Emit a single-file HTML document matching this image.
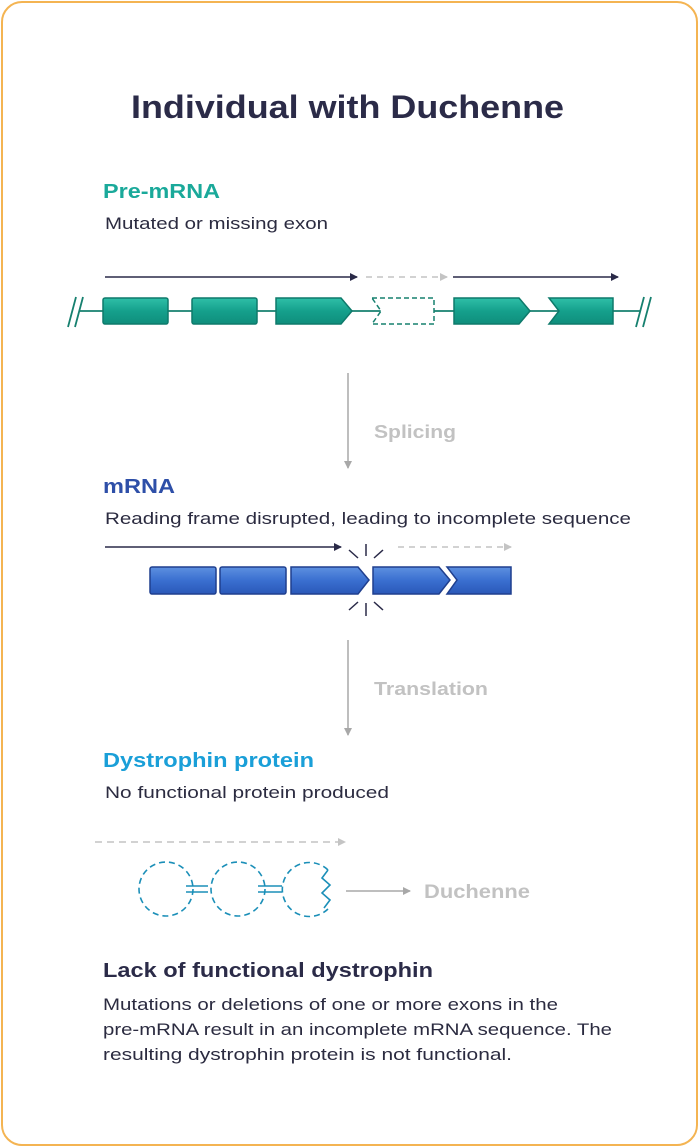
<!DOCTYPE html>
<html><head><style>
html,body{margin:0;padding:0;background:#fff;}
svg{display:block;font-family:"Liberation Sans",sans-serif;}
</style></head><body>
<svg width="700" height="1148" viewBox="0 0 700 1148">
<defs>
<linearGradient id="tg" x1="0" y1="0" x2="0" y2="1"><stop offset="0" stop-color="#2fbfa8"/><stop offset="0.5" stop-color="#15a08c"/><stop offset="1" stop-color="#0f8e7c"/></linearGradient>
<linearGradient id="bg" x1="0" y1="0" x2="0" y2="1"><stop offset="0" stop-color="#5d90e0"/><stop offset="0.5" stop-color="#3a6fd0"/><stop offset="1" stop-color="#2a58b8"/></linearGradient>
<marker id="ad" markerWidth="8" markerHeight="8" refX="7" refY="4" orient="auto" markerUnits="userSpaceOnUse"><path d="M0,0 L8,4 L0,8z" fill="#2a2a48"/></marker>
<marker id="ag" markerWidth="8" markerHeight="8" refX="7" refY="4" orient="auto" markerUnits="userSpaceOnUse"><path d="M0,0 L8,4 L0,8z" fill="#c4c4c4"/></marker>
<marker id="ag2" markerWidth="8" markerHeight="8" refX="7" refY="4" orient="auto" markerUnits="userSpaceOnUse"><path d="M0,0 L8,4 L0,8z" fill="#a8a8a8"/></marker>
</defs>
<rect x="2" y="2" width="695" height="1143" rx="20" fill="#fff" stroke="#f4b452" stroke-width="2"/>
<g lengthAdjust="spacingAndGlyphs">
<text x="131" y="118" font-size="32" font-weight="bold" fill="#2b2b48" textLength="433" lengthAdjust="spacingAndGlyphs">Individual with Duchenne</text>

<text x="103" y="198" font-size="20" font-weight="bold" fill="#1aa99a" textLength="117" lengthAdjust="spacingAndGlyphs">Pre-mRNA</text>
<text x="105" y="229" font-size="17" fill="#2b2b40" textLength="223" lengthAdjust="spacingAndGlyphs">Mutated or missing exon</text>
</g>
<line x1="105" y1="277" x2="357" y2="277" stroke="#2a2a48" stroke-width="1.6" marker-end="url(#ad)"/>
<line x1="366" y1="277" x2="447" y2="277" stroke="#c4c4c4" stroke-width="1.6" stroke-dasharray="6,5" marker-end="url(#ag)"/>
<line x1="453" y1="277" x2="618" y2="277" stroke="#2a2a48" stroke-width="1.6" marker-end="url(#ad)"/>
<line x1="80" y1="311" x2="640" y2="311" stroke="#16806f" stroke-width="1.8"/>
<g stroke="#16806f" stroke-width="1.8"><line x1="68" y1="327" x2="76" y2="297"/><line x1="75" y1="327" x2="83" y2="297"/><line x1="636" y1="327" x2="644" y2="297"/><line x1="643" y1="327" x2="651" y2="297"/></g>
<g fill="url(#tg)" stroke="#0e7a6b" stroke-width="1.5">
<rect x="103" y="298" width="65" height="26" rx="2"/>
<rect x="192" y="298" width="65" height="26" rx="2"/>
<path d="M276,298 H341 L352,311 L341,324 H276Z"/>
<path d="M454,298 H519 L530,311 L519,324 H454Z"/>
<path d="M549,298 H613 V324 H549 L559,311Z"/>
</g>
<path d="M372,298 H434 V324 H372 L381,311Z" fill="#fff" stroke="#16806f" stroke-width="1.5" stroke-dasharray="5,3"/>

<line x1="348" y1="373" x2="348" y2="468" stroke="#a8a8a8" stroke-width="1.5" marker-end="url(#ag2)"/>
<text x="374" y="438" font-size="18" font-weight="bold" fill="#c2c2c2" textLength="82" lengthAdjust="spacingAndGlyphs">Splicing</text>

<text x="103" y="493" font-size="20" font-weight="bold" fill="#2e4fa8" textLength="72" lengthAdjust="spacingAndGlyphs">mRNA</text>
<text x="105" y="524" font-size="17" fill="#2b2b40" textLength="526" lengthAdjust="spacingAndGlyphs">Reading frame disrupted, leading to incomplete sequence</text>
<line x1="105" y1="547" x2="341" y2="547" stroke="#2a2a48" stroke-width="1.6" marker-end="url(#ad)"/>
<line x1="398" y1="547" x2="511" y2="547" stroke="#c4c4c4" stroke-width="1.6" stroke-dasharray="6,5" marker-end="url(#ag)"/>
<g fill="url(#bg)" stroke="#1f3f8e" stroke-width="1.5">
<rect x="150" y="567" width="66" height="27" rx="2"/>
<rect x="220" y="567" width="66" height="27" rx="2"/>
<path d="M291,567 H358 L369,580 L358,594 H291Z"/>
<path d="M373,567 H439 L450,580 L439,594 H373Z"/>
<path d="M447,567 H511 V594 H447 L457,580Z"/>
</g>
<g stroke="#2a2a48" stroke-width="1.5">
<line x1="366" y1="544" x2="366" y2="556"/><line x1="349" y1="550" x2="358" y2="558"/><line x1="383" y1="550" x2="374" y2="558"/>
<line x1="366" y1="603" x2="366" y2="616"/><line x1="349" y1="610" x2="358" y2="602"/><line x1="383" y1="610" x2="374" y2="602"/>
</g>

<line x1="348" y1="640" x2="348" y2="735" stroke="#a8a8a8" stroke-width="1.5" marker-end="url(#ag2)"/>
<text x="374" y="695" font-size="18" font-weight="bold" fill="#c2c2c2" textLength="114" lengthAdjust="spacingAndGlyphs">Translation</text>

<text x="103" y="767" font-size="20" font-weight="bold" fill="#1a9fd8" textLength="211" lengthAdjust="spacingAndGlyphs">Dystrophin protein</text>
<text x="105" y="798" font-size="17" fill="#2b2b40" textLength="284" lengthAdjust="spacingAndGlyphs">No functional protein produced</text>
<line x1="95" y1="842" x2="345" y2="842" stroke="#c4c4c4" stroke-width="1.6" stroke-dasharray="7,5" marker-end="url(#ag)"/>
<g fill="none" stroke="#1b8fb8" stroke-width="1.6" stroke-dasharray="6,4">
<circle cx="166" cy="889" r="27"/>
<circle cx="238" cy="889" r="27"/>
<path d="M328,870 A27,27 0 1,0 328,909"/>
</g>
<g fill="none" stroke="#1b8fb8" stroke-width="1.6">
<path d="M328,870 L322,878 L330,885 L322,893 L330,900 L324,908"/>
<line x1="186" y1="886" x2="208" y2="886"/><line x1="186" y1="892" x2="208" y2="892"/>
<line x1="258" y1="886" x2="282" y2="886"/><line x1="258" y1="892" x2="282" y2="892"/>
</g>
<line x1="346" y1="891" x2="410" y2="891" stroke="#a8a8a8" stroke-width="1.5" marker-end="url(#ag2)"/>
<text x="424" y="898" font-size="19" font-weight="bold" fill="#c2c2c2" textLength="106" lengthAdjust="spacingAndGlyphs">Duchenne</text>

<text x="103" y="977" font-size="20" font-weight="bold" fill="#2b2b48" textLength="330" lengthAdjust="spacingAndGlyphs">Lack of functional dystrophin</text>
<text x="103" y="1010" font-size="17" fill="#2b2b40" textLength="455" lengthAdjust="spacingAndGlyphs">Mutations or deletions of one or more exons in the</text>
<text x="103" y="1035" font-size="17" fill="#2b2b40" textLength="509" lengthAdjust="spacingAndGlyphs">pre-mRNA result in an incomplete mRNA sequence. The</text>
<text x="103" y="1060" font-size="17" fill="#2b2b40" textLength="409" lengthAdjust="spacingAndGlyphs">resulting dystrophin protein is not functional.</text>
</svg>
</body></html>
